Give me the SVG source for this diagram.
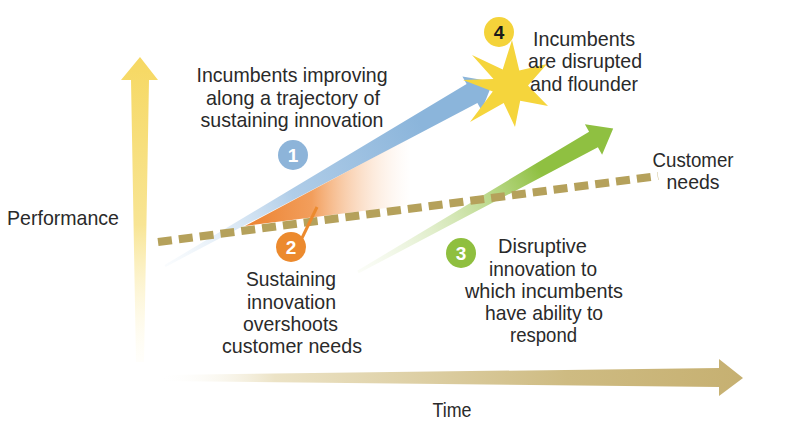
<svg xmlns="http://www.w3.org/2000/svg" width="800" height="429" viewBox="0 0 800 429">
<defs>
<linearGradient id="gV" gradientUnits="userSpaceOnUse" x1="0" y1="57" x2="0" y2="362">
<stop offset="0" stop-color="#f6d862"/>
<stop offset="0.55" stop-color="#f8e594"/>
<stop offset="1" stop-color="#fffbea" stop-opacity="0.2"/>
</linearGradient>
<linearGradient id="gH" gradientUnits="userSpaceOnUse" x1="158" y1="0" x2="743" y2="0">
<stop offset="0" stop-color="#ffffff" stop-opacity="0"/>
<stop offset="0.2" stop-color="#ece3c6"/>
<stop offset="0.7" stop-color="#cebb82"/>
<stop offset="1" stop-color="#c6b071"/>
</linearGradient>
<linearGradient id="gB" gradientUnits="userSpaceOnUse" x1="165" y1="266" x2="420" y2="123">
<stop offset="0" stop-color="#e3eef8" stop-opacity="0.2"/>
<stop offset="0.5" stop-color="#b0cde8"/>
<stop offset="1" stop-color="#8bb5db"/>
</linearGradient>
<linearGradient id="gG" gradientUnits="userSpaceOnUse" x1="358" y1="272" x2="540" y2="170">
<stop offset="0" stop-color="#eaf3da" stop-opacity="0.2"/>
<stop offset="1" stop-color="#8fc041"/>
</linearGradient>
<linearGradient id="gO" gradientUnits="userSpaceOnUse" x1="245" y1="0" x2="412" y2="0">
<stop offset="0" stop-color="#ec8230"/>
<stop offset="0.4" stop-color="#f29e5c"/>
<stop offset="1" stop-color="#fde6d4" stop-opacity="0"/>
</linearGradient>
<style>
text{font-family:"Liberation Sans",Arial,sans-serif;font-size:21px;fill:#2a2a2a;text-anchor:middle}
.num{font-weight:bold;font-size:19px;fill:#ffffff}
.num4{font-weight:bold;font-size:19px;fill:#1a1a1a}
</style>
</defs>
<rect width="800" height="429" fill="#ffffff"/>
<g id="connectors">
<polygon id="axis-performance" points="140,57 158,80 149,80 144,362 136,362 131,80 121,80" fill="url(#gV)"/>
<polygon id="axis-time" points="160,375 719,368 719,359 743,378 719,396 719,387 160,381" fill="url(#gH)"/>
<polygon id="arrow-sustaining" points="164.5,265.1 466.6,83.9 462.4,76.5 493,81.7 481.6,110.5 477.4,103.1 165.5,266.9" fill="url(#gB)"/>
<polygon id="overshoot-wedge" points="245,226 410,138 410,205" fill="url(#gO)"/>
<polygon id="arrow-disruptive" points="357.3,270.7 589.1,131.7 584.9,124.2 613.2,128.4 602.1,154.8 597.9,147.3 358.7,273.3" fill="url(#gG)"/>
<line id="customer-needs" x1="158" y1="242" x2="658" y2="176" stroke="#b5a15b" stroke-width="8" stroke-dasharray="14 7"/>
<line id="pointer-2" x1="302" y1="238" x2="317" y2="207" stroke="#ec8a2e" stroke-width="3"/>
</g>
<g id="label-performance"><text x="63" y="225" textLength="112" lengthAdjust="spacingAndGlyphs">Performance</text></g>
<g id="label-time"><text x="452" y="417" textLength="39" lengthAdjust="spacingAndGlyphs">Time</text></g>
<g id="label-customer-needs">
<text x="693" y="167" textLength="81" lengthAdjust="spacingAndGlyphs">Customer</text>
<text x="693" y="189" textLength="53" lengthAdjust="spacingAndGlyphs">needs</text>
</g>
<g id="node-1">
<circle cx="293" cy="155" r="15" fill="#8db4d9"/>
<text class="num" x="293" y="162">1</text>
<text x="292" y="82" textLength="191" lengthAdjust="spacingAndGlyphs">Incumbents improving</text>
<text x="293" y="105" textLength="174" lengthAdjust="spacingAndGlyphs">along a trajectory of</text>
<text x="292" y="127" textLength="183" lengthAdjust="spacingAndGlyphs">sustaining innovation</text>
</g>
<g id="node-2">
<circle cx="291" cy="247" r="15" fill="#ec8a2e"/>
<text class="num" x="291" y="254">2</text>
<text x="291" y="286" textLength="90" lengthAdjust="spacingAndGlyphs">Sustaining</text>
<text x="291.5" y="309" textLength="89" lengthAdjust="spacingAndGlyphs">innovation</text>
<text x="290.5" y="331" textLength="95" lengthAdjust="spacingAndGlyphs">overshoots</text>
<text x="292" y="353" textLength="140" lengthAdjust="spacingAndGlyphs">customer needs</text>
</g>
<g id="node-3">
<circle cx="461" cy="253" r="15" fill="#8fbf3f"/>
<text class="num" x="461" y="260">3</text>
<text x="542.5" y="253" textLength="89" lengthAdjust="spacingAndGlyphs">Disruptive</text>
<text x="543" y="276" textLength="108" lengthAdjust="spacingAndGlyphs">innovation to</text>
<text x="544" y="298" textLength="158" lengthAdjust="spacingAndGlyphs">which incumbents</text>
<text x="544" y="320" textLength="118" lengthAdjust="spacingAndGlyphs">have ability to</text>
<text x="543.5" y="342" textLength="67" lengthAdjust="spacingAndGlyphs">respond</text>
</g>
<g id="node-4">
<polygon points="512,40 519.3,70.6 547,64 528,85.5 548,106 520.2,100.8 515,127 503.7,102.9 470,122 492.8,91.4 463,80 493.5,78.9 472,55 502.7,69.6" fill="#f5d53c"/>
<circle cx="499" cy="32" r="15" fill="#f4d33a"/>
<text class="num4" x="499" y="39">4</text>
<text x="584" y="46" textLength="102" lengthAdjust="spacingAndGlyphs">Incumbents</text>
<text x="585" y="68" textLength="114" lengthAdjust="spacingAndGlyphs">are disrupted</text>
<text x="584" y="91" textLength="108" lengthAdjust="spacingAndGlyphs">and flounder</text>
</g>
</svg>
